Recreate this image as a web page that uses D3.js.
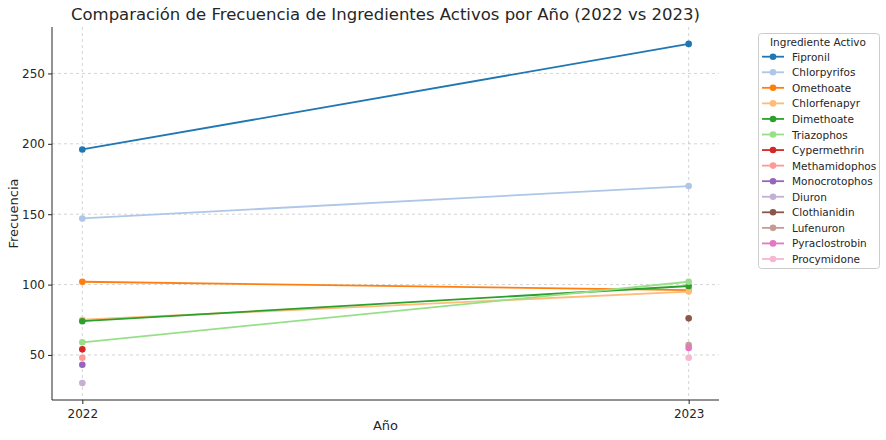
<!DOCTYPE html>
<html><head><meta charset="utf-8">
<script src="https://cdn.jsdelivr.net/npm/d3@7"></script>
<style>body{margin:0;background:#fff;font-family:"DejaVu Sans",sans-serif;}</style>
</head><body><svg id="c" width="886" height="440"></svg>
<script>
const years = [2022, 2023];
const ingredients = ["Fipronil","Chlorpyrifos","Omethoate","Chlorfenapyr","Dimethoate","Triazophos","Cypermethrin","Methamidophos","Monocrotophos","Diuron","Clothianidin","Lufenuron","Pyraclostrobin","Procymidone"];
const values2022 = [196, 147, 102, 75, 74, 59, 54, 48, 43, 30, null, null, null, null];
const values2023 = [271, 170, 96, 95, 99, 102, null, null, null, null, 76, 57, 55, 48];
const colors = ["#1f77b4","#aec7e8","#ff7f0e","#ffbb78","#2ca02c","#98df8a","#d62728","#ff9896","#9467bd","#c5b0d5","#8c564b","#c49c94","#e377c2","#f7b6d2"];
const yTicks = [50, 100, 150, 200, 250];

const svg = d3.select("#c");
const L = 52, R = 719, T = 27, B = 400;
const x = d3.scaleLinear().domain([2022 - 0.05, 2023 + 0.05]).range([L, R]);
const y = d3.scaleLinear().domain([18, 283]).range([B, T]);

// grid
const g = svg.append("g");
g.selectAll(".gy").data(yTicks).join("line")
  .attr("x1", L).attr("x2", R).attr("y1", d => y(d)).attr("y2", d => y(d))
  .attr("stroke", "#b0b0b0").attr("stroke-opacity", 0.7).attr("stroke-width", 0.8).attr("stroke-dasharray", "3,3");
g.selectAll(".gx").data(years).join("line")
  .attr("y1", T).attr("y2", B).attr("x1", d => x(d)).attr("x2", d => x(d))
  .attr("stroke", "#b0b0b0").attr("stroke-opacity", 0.7).attr("stroke-width", 0.8).attr("stroke-dasharray", "3,3");

// series
ingredients.forEach((name, i) => {
  const pts = [values2022[i], values2023[i]].map((v, j) => ({x: years[j], v})).filter(p => p.v != null);
  const s = svg.append("g");
  if (pts.length > 1) {
    s.append("path").datum(pts)
      .attr("d", d3.line().x(p => x(p.x)).y(p => y(p.v)))
      .attr("fill", "none").attr("stroke", colors[i]).attr("stroke-width", 1.8);
  }
  s.selectAll("circle").data(pts).join("circle")
    .attr("cx", p => x(p.x)).attr("cy", p => y(p.v)).attr("r", 3.3).attr("fill", colors[i]);
});

// axes
const xa = svg.append("g").attr("transform", `translate(0,${B})`)
  .call(d3.axisBottom(x).tickValues(years).tickFormat(d3.format("d")).tickSize(4).tickSizeOuter(0));
const ya = svg.append("g").attr("transform", `translate(${L},0)`)
  .call(d3.axisLeft(y).tickValues(yTicks).tickSize(4).tickSizeOuter(0));
[xa, ya].forEach(a => {
  a.selectAll("text").attr("font-family", "DejaVu Sans").attr("font-size", 12).attr("fill", "#262626");
  a.selectAll("line").attr("stroke", "#262626");
  a.select(".domain").attr("stroke", "#262626").attr("stroke-width", 1);
});
xa.select(".domain").attr("d", `M${L},0H${R}`);
ya.select(".domain").attr("d", `M0,${B}V${T}`);
xa.selectAll("text").attr("dy", "0.9em");

svg.append("text").attr("x", (L + R) / 2).attr("y", 20).attr("text-anchor", "middle")
  .attr("font-size", 16.5).attr("fill", "#262626")
  .text("Comparación de Frecuencia de Ingredientes Activos por Año (2022 vs 2023)");
svg.append("text").attr("x", (L + R) / 2).attr("y", 430).attr("text-anchor", "middle")
  .attr("font-size", 13).attr("fill", "#262626").text("Año");
svg.append("text").attr("transform", `translate(18,${(T + B) / 2}) rotate(-90)`).attr("text-anchor", "middle")
  .attr("font-size", 13).attr("fill", "#262626").text("Frecuencia");

// legend
const lg = svg.append("g");
lg.append("rect").attr("x", 758.5).attr("y", 33.5).attr("width", 121).attr("height", 235).attr("rx", 3)
  .attr("fill", "#fff").attr("fill-opacity", 0.8).attr("stroke", "#cccccc");
lg.append("text").attr("x", 818).attr("y", 45.5).attr("text-anchor", "middle")
  .attr("font-size", 10.5).attr("fill", "#262626").text("Ingrediente Activo");
ingredients.forEach((name, i) => {
  const yy = 56.7 + i * 15.56;
  lg.append("line").attr("x1", 762).attr("x2", 784).attr("y1", yy).attr("y2", yy)
    .attr("stroke", colors[i]).attr("stroke-width", 1.8);
  lg.append("circle").attr("cx", 773).attr("cy", yy).attr("r", 3.3).attr("fill", colors[i]);
  lg.append("text").attr("x", 792).attr("y", yy + 4).attr("font-size", 10.5).attr("fill", "#262626").text(name);
});
</script></body></html>
